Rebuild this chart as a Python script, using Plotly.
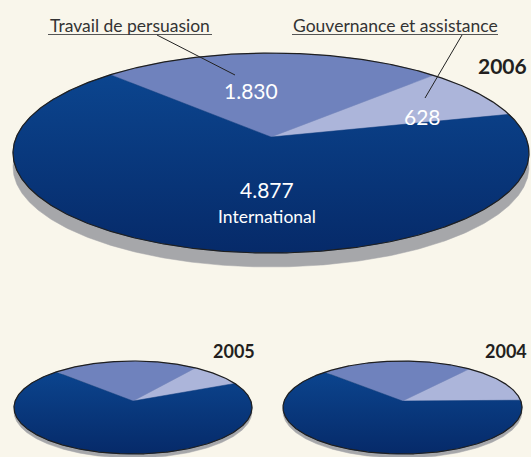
import numpy as np
import plotly.graph_objects as go

# ---------------- data ----------------
categories = ["International", "Travail de persuasion", "Gouvernance et assistance"]
years = ["2006", "2005", "2004"]
values_2006 = [4877, 1830, 628]
values_2005 = [4500, 1470, 540]   # (no labels)
values_2004 = [3900, 1460, 870]   # (no labels)
value_labels_2006 = ["4.877", "1.830", "628"]

# ---------------- style ----------------
BG = "#f9f6eb"
INT_TOP, INT_BOTTOM = "#0c4893", "#062a69"
slice_colors = {"Travail de persuasion": "#6f82bd", "Gouvernance et assistance": "#acb5da"}
SHADOW = "#a6a7aa"
OUTLINE = "#1f1f1f"
FONT = "Lato"

# pie placement (pixels): vertex, top/bottom of face, half width, side depth, start angle
pies = {
    "2006": dict(values=values_2006, cx=271, cy=137, top=53, bottom=253, hw=258, depth=14, start=14),
    "2005": dict(values=values_2005, cx=133, cy=401, top=361, bottom=454, hw=119, depth=4, start=24),
    "2004": dict(values=values_2004, cx=402.5, cy=401, top=361, bottom=454, hw=119.5, depth=4, start=1),
}


def projector(p):
    a = p["cy"] - p["top"]
    b = p["bottom"] - p["cy"]
    k = (b - a) / (b + a)
    s = 2 * a * b / (a + b)
    W = p["hw"] * np.sqrt(1 - k * k)

    def proj(phi_deg, dy=0.0):
        t = np.radians(phi_deg)
        u, v = np.cos(t), np.sin(t)
        d = 1 + k * v
        return p["cx"] + W * u / d, p["cy"] - s * v / d + dy
    return proj


fig = go.Figure()

for year in years:
    p = pies[year]
    proj = projector(p)
    full = np.linspace(0, 360, 721)
    # side / shadow
    sx, sy = proj(full, p["depth"])
    fig.add_trace(go.Scatter(x=sx, y=sy, mode="lines", fill="toself", fillcolor=SHADOW,
                             line=dict(color=SHADOW, width=0.5), hoverinfo="skip", showlegend=False))
    vals = np.array(p["values"], dtype=float)
    frac = vals / vals.sum()
    # counterclockwise from start: Gouvernance, Travail, International
    order = [2, 1, 0]
    ang = p["start"]
    for i in order:
        span = frac[i] * 360
        arc = np.linspace(ang, ang + span, max(int(span * 2), 4))
        ax, ay = proj(arc)
        xs = np.concatenate([[p["cx"]], ax, [p["cx"]]])
        ys = np.concatenate([[p["cy"]], ay, [p["cy"]]])
        name = categories[i]
        if i == 0:
            fig.add_trace(go.Scatter(
                x=xs, y=ys, mode="lines", fill="toself",
                fillgradient=dict(type="vertical", colorscale=[[0, INT_TOP], [1, INT_BOTTOM]],
                                  start=p["top"], stop=p["bottom"]),
                line=dict(color="#09397e", width=0.5), hoverinfo="skip", showlegend=False, name=name))
        else:
            c = slice_colors[name]
            fig.add_trace(go.Scatter(x=xs, y=ys, mode="lines", fill="toself", fillcolor=c,
                                     line=dict(color=c, width=0.5), hoverinfo="skip",
                                     showlegend=False, name=name))
        ang += span
    ox, oy = proj(full)
    fig.add_trace(go.Scatter(x=ox, y=oy, mode="lines", line=dict(color=OUTLINE, width=1.2),
                             hoverinfo="skip", showlegend=False))

annotations = [
    dict(x=267, y=189, text=value_labels_2006[0], font=dict(size=21, color="white", family=FONT)),
    dict(x=267, y=216, text=categories[0], font=dict(size=17.5, color="white", family=FONT)),
    dict(x=251, y=90, text=value_labels_2006[1], font=dict(size=21, color="white", family=FONT)),
    dict(x=422, y=116, text=value_labels_2006[2], font=dict(size=21, color="white", family=FONT)),
    dict(x=130, y=25, text=categories[1], font=dict(size=17.5, color="#333333", family=FONT)),
    dict(x=395, y=25, text=categories[2], font=dict(size=17.5, color="#333333", family=FONT)),
    dict(x=529, y=65, text="<b>" + years[0] + "</b>", xanchor="right",
         font=dict(size=21, color="#231f20", family=FONT)),
    dict(x=257, y=351, text="<b>" + years[1] + "</b>", xanchor="right",
         font=dict(size=18, color="#231f20", family=FONT)),
    dict(x=529, y=351, text="<b>" + years[2] + "</b>", xanchor="right",
         font=dict(size=18, color="#231f20", family=FONT)),
]
for a in annotations:
    a.setdefault("xanchor", "center")
    a.update(xref="x", yref="y", yanchor="middle", showarrow=False)

shapes = [
    dict(type="line", x0=48, x1=212, y0=34.5, y1=34.5, line=dict(color="#555555", width=1)),
    dict(type="line", x0=292, x1=498, y0=34.5, y1=34.5, line=dict(color="#555555", width=1)),
    dict(type="line", x0=157, x1=235, y0=35, y1=75, line=dict(color="#222222", width=1)),
    dict(type="line", x0=462, x1=425, y0=35, y1=98, line=dict(color="#222222", width=1)),
]
for s in shapes:
    s.update(xref="x", yref="y", layer="above")

fig.update_layout(
    width=531, height=457, margin=dict(l=0, r=0, t=0, b=0),
    paper_bgcolor=BG, plot_bgcolor=BG,
    xaxis=dict(range=[0, 531], visible=False, fixedrange=True),
    yaxis=dict(range=[457, 0], visible=False, fixedrange=True),
    annotations=annotations, shapes=shapes, showlegend=False,
)

fig.write_html("out.html", config={"displayModeBar": False, "staticPlot": True},
               post_script="document.body.style.margin='0';document.body.style.overflow='hidden';")
